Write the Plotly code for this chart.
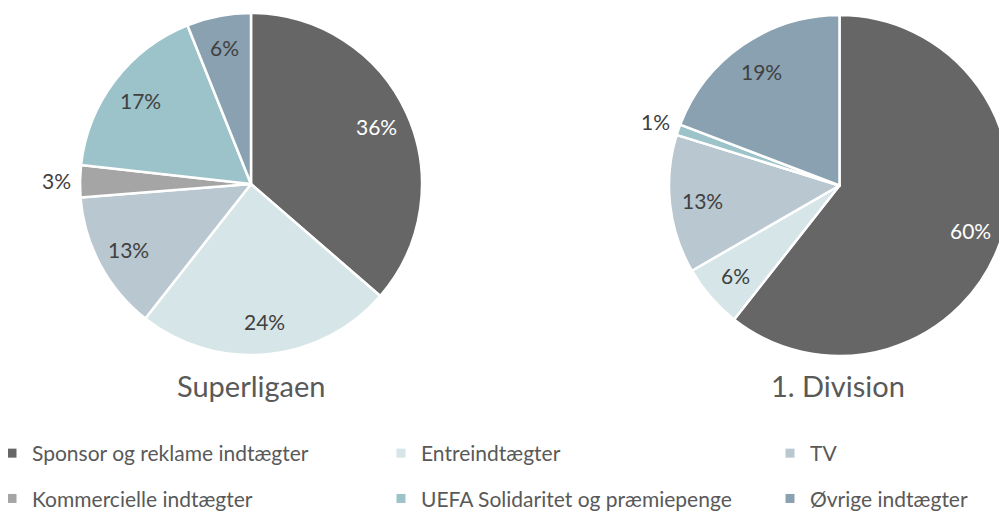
import math
import plotly.graph_objects as go

categories = ["Sponsor og reklame indtægter", "Entreindtægter", "TV",
              "Kommercielle indtægter", "UEFA Solidaritet og præmiepenge", "Øvrige indtægter"]
superligaen = [36, 24, 13, 3, 17, 6]
division1 = [60, 6, 13, 0, 1, 19]
pie_titles = ["Superligaen", "1. Division"]
colors = ["#666666", "#D6E5E8", "#B8C7D0", "#A5A5A5", "#9BC3C9", "#8AA1B1"]
label_colors = ["#FFFFFF", "#404040", "#404040", "#404040", "#404040", "#404040"]
# legend column per category: col1 = Sponsor, Kommercielle ; col2 = Entre, UEFA ; col3 = TV, Øvrige
legend_columns = ["legend", "legend2", "legend3", "legend", "legend2", "legend3"]

FONT = "Lato"
W, H = 1007, 513
OFF = 8  # page body margin (px) in front of the figure


def px(X):
    return (X - OFF) / W


def py(Y):
    return 1 - (Y - OFF) / H


fig = go.Figure()

# pie boxes in page pixels: (left, right, top, bottom)
boxes = [(80, 422, 13, 355), (669, 1010, 15, 356)]
domains = [dict(x=[px(l), px(r)], y=[py(b), py(t)]) for (l, r, t, b) in boxes]

for vals, dom, box, name in zip([superligaen, division1], domains, boxes, pie_titles):
    fig.add_trace(go.Pie(
        labels=categories, values=vals, name=name,
        sort=False, direction="clockwise", rotation=0,
        marker=dict(colors=colors, line=dict(color="white", width=2.5)),
        textinfo="none",
        domain=dom, showlegend=False, hoverinfo="label+percent",
    ))
    l, r_, t, b = box
    cx, cy = (l + r_) / 2, (t + b) / 2
    rad = min(r_ - l, b - t) / 2
    total = sum(vals)
    cum = 0
    for v, lc in zip(vals, label_colors):
        if v > 0:
            ang = math.radians((cum + v / 2) / total * 360)
            inside = v >= 5
            frac = 0.81 if inside else 1.14
            fig.add_annotation(
                text=f"{v}%",
                x=px(cx + frac * rad * math.sin(ang)),
                y=py(cy - frac * rad * math.cos(ang)),
                xref="paper", yref="paper",
                xanchor="center", yanchor="middle", showarrow=False,
                font=dict(family=FONT, size=21, color=lc if inside else "#404040"),
            )
        cum += v
    fig.add_annotation(
        text=name, x=px(cx if name != "1. Division" else 838), y=py(385),
        xref="paper", yref="paper",
        xanchor="center", yanchor="middle", showarrow=False,
        font=dict(family=FONT, size=29, color="#595959"),
    )

# legend entries (one per category)
for i, (cat, col, lg) in enumerate(zip(categories, colors, legend_columns)):
    fig.add_trace(go.Scatter(
        x=[None], y=[None], mode="markers", name=cat,
        marker=dict(symbol="square", size=9, color=col),
        legend=lg, legendgroup=f"g{i}", showlegend=True, hoverinfo="skip",
    ))

leg_common = dict(orientation="v", xanchor="left", yanchor="top", y=py(433),
                  font=dict(family=FONT, size=21, color="#595959"),
                  bgcolor="rgba(0,0,0,0)", tracegroupgap=15, traceorder="grouped",
                  itemclick=False, itemdoubleclick=False)

fig.update_layout(
    width=W, height=H,
    margin=dict(l=0, r=0, t=0, b=0, autoexpand=False),
    paper_bgcolor="white", plot_bgcolor="white",
    xaxis=dict(visible=False), yaxis=dict(visible=False),
    legend=dict(x=px(-8), **leg_common),
    legend2=dict(x=px(381), **leg_common),
    legend3=dict(x=px(770), **leg_common),
    font=dict(family=FONT),
)

fig.write_html("out.html")
